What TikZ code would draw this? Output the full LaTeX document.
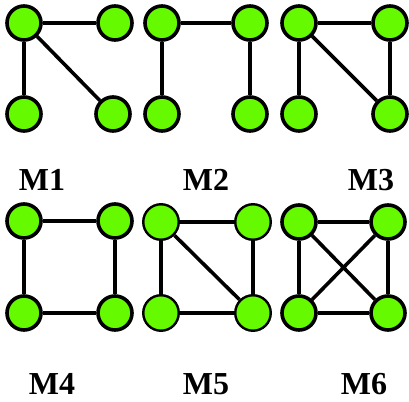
\documentclass[tikz,border=0pt]{standalone}
\usepackage{fontspec}
\setmainfont{Liberation Serif}
\usepackage{tikz}
\usetikzlibrary{calc}
\definecolor{Vertex}{RGB}{102,250,0}

\begin{document}
\begin{tikzpicture}[x=1pt, y=-1pt]
			\useasboundingbox (0,0) rectangle (409,401);
			\tikzstyle{vertex}=[draw, shape=circle, line width = 3.6pt, fill=Vertex, inner sep = 0pt, minimum size = 34pt];
			\tikzstyle{thinvertex}=[vertex, line width = 2.4pt, minimum size = 35.5pt];
			\tikzstyle{edge}=[line width = 3.6pt];
			\tikzstyle{motiflabel}=[font=\fontsize{32}{32}\selectfont\bfseries, inner sep = 0pt];
			% M1
			\node [vertex] (a1) at (24, 23) {};
			\node [vertex] (a2) at (115, 23) {};
			\node [vertex] (a3) at (24, 114) {};
			\node [vertex] (a4) at (113, 114) {};
			\draw [edge] (a1) -- (a2);
			\draw [edge] (a1) -- (a3);
			\draw [edge] (a1) -- (a4);
			\node [motiflabel] (l1) at (42, 180) {M1};
			% M2
			\node [vertex] (b1) at (162, 23) {};
			\node [vertex] (b2) at (250, 23) {};
			\node [vertex] (b3) at (162, 114) {};
			\node [vertex] (b4) at (250, 114) {};
			\draw [edge] (b1) -- (b2);
			\draw [edge] (b1) -- (b3);
			\draw [edge] (b2) -- (b4);
			\node [motiflabel] (l2) at (206, 180) {M2};
			% M3
			\node [vertex] (c1) at (299, 23) {};
			\node [vertex] (c2) at (390, 23) {};
			\node [vertex] (c3) at (299, 114) {};
			\node [vertex] (c4) at (390, 114) {};
			\draw [edge] (c1) -- (c2);
			\draw [edge] (c1) -- (c3);
			\draw [edge] (c1) -- (c4);
			\draw [edge] (c2) -- (c4);
			\node [motiflabel] (l3) at (371, 180) {M3};
			% M4
			\node [vertex] (d1) at (24, 221) {};
			\node [vertex] (d2) at (115, 221) {};
			\node [vertex] (d3) at (24, 313) {};
			\node [vertex] (d4) at (115, 313) {};
			\draw [edge] (d1) -- (d2);
			\draw [edge] (d1) -- (d3);
			\draw [edge] (d2) -- (d4);
			\draw [edge] (d3) -- (d4);
			\node [motiflabel] (l4) at (52, 384) {M4};
			% M5
			\node [thinvertex] (e1) at (161, 222) {};
			\node [thinvertex] (e2) at (253, 222) {};
			\node [thinvertex] (e3) at (161, 313) {};
			\node [thinvertex] (e4) at (253, 313) {};
			\draw [edge] (e1) -- (e2);
			\draw [edge] (e1) -- (e3);
			\draw [edge] (e1) -- (e4);
			\draw [edge] (e2) -- (e4);
			\draw [edge] (e3) -- (e4);
			\node [motiflabel] (l5) at (206, 384) {M5};
			% M6
			\node [vertex] (f1) at (299, 222) {};
			\node [vertex] (f2) at (388, 222) {};
			\node [vertex] (f3) at (299, 313) {};
			\node [vertex] (f4) at (388, 313) {};
			\draw [edge] (f1) -- (f2);
			\draw [edge] (f1) -- (f3);
			\draw [edge] (f1) -- (f4);
			\draw [edge] (f2) -- (f3);
			\draw [edge] (f2) -- (f4);
			\draw [edge] (f3) -- (f4);
			\node [motiflabel] (l6) at (364, 384) {M6};
\end{tikzpicture}
\end{document}
